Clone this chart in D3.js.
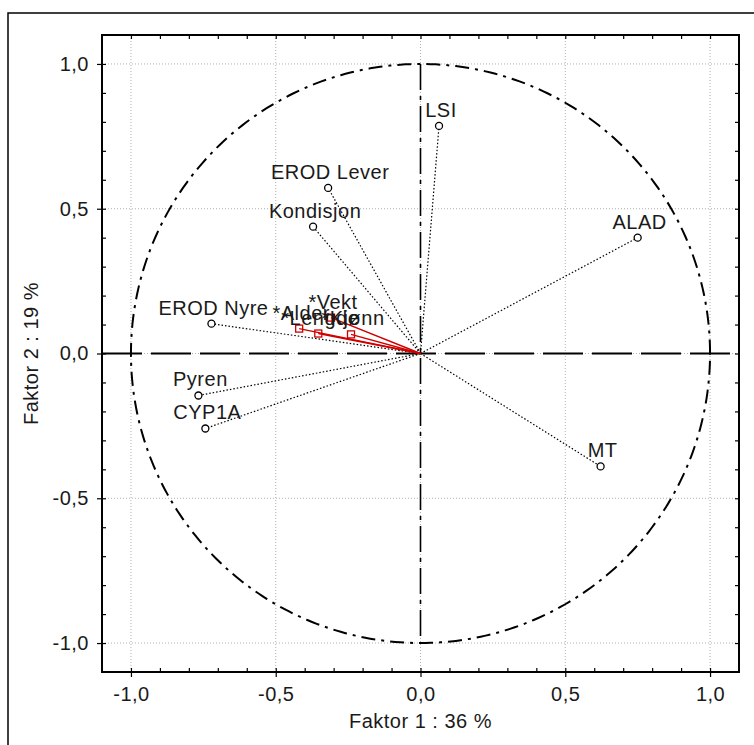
<!DOCTYPE html>
<html>
<head>
<meta charset="utf-8">
<script src="https://cdn.jsdelivr.net/npm/d3@7"></script>
<style>
  body { margin: 0; background: #fff; }
  text { font-family: "Liberation Sans", Arial, sans-serif; fill: #1a1a1a; }
</style>
</head>
<body>
<svg width="754" height="745"></svg>
<script>
// active variables (circles)
const varNames = ["LSI", "EROD Lever", "Kondisjon", "ALAD", "EROD Nyre", "Pyren", "CYP1A", "MT"];
const factor1 = [0.064, -0.319, -0.371, 0.75, -0.722, -0.767, -0.743, 0.622];
const factor2 = [0.786, 0.572, 0.438, 0.40, 0.103, -0.145, -0.259, -0.39];

// supplementary variables (red squares)
const suppNames = ["*Vekt", "*Alder", "*Lengde", "*Kjønn"];
const suppF1 = [-0.309, -0.419, -0.353, -0.24];
const suppF2 = [0.124, 0.086, 0.069, 0.066];

const majorTicks = [-1, -0.5, 0, 0.5, 1];
const minorTicks = d3.range(-10, 11).map(i => i / 10);
const xTitle = "Faktor 1 : 36 %", yTitle = "Faktor 2 : 19 %";

const svg = d3.select("svg"),
  plotLeft = 102, plotTop = 35, size = 637;

const x = d3.scaleLinear().domain([-1.1, 1.1]).range([plotLeft, plotLeft + size]);
const y = d3.scaleLinear().domain([-1.1, 1.1]).range([plotTop + size, plotTop]);
const fmt = d => d.toFixed(1).replace(".", ",");

// outer border, cut by the window on right and bottom
svg.append("rect")
  .attr("x", 8).attr("y", 13).attr("width", 800).attr("height", 800)
  .attr("fill", "none").attr("stroke", "#000").attr("stroke-width", 1.5);

// grid
const grid = svg.append("g").attr("stroke", "#b0b0b0").attr("stroke-dasharray", "1,2");
grid.selectAll(".gx").data(majorTicks).enter().append("line")
  .attr("x1", d => x(d)).attr("x2", d => x(d)).attr("y1", plotTop).attr("y2", plotTop + size);
grid.selectAll(".gy").data(majorTicks).enter().append("line")
  .attr("y1", d => y(d)).attr("y2", d => y(d)).attr("x1", plotLeft).attr("x2", plotLeft + size);

// axes: major outward ticks with labels, minor inward ticks on all four sides
function styleAxis(g) {
  g.select(".domain").remove();
  g.selectAll("line").attr("stroke", "#000").attr("stroke-width", 1.2);
  g.selectAll("text").attr("font-size", 20).attr("letter-spacing", "0.5px")
    .attr("font-family", "Liberation Sans, Arial, sans-serif").attr("fill", "#1a1a1a");
}
svg.append("g").attr("transform", `translate(0,${plotTop + size})`)
  .call(d3.axisBottom(x).tickValues(majorTicks).tickFormat(fmt).tickSize(5).tickPadding(10))
  .call(styleAxis);
svg.append("g").attr("transform", `translate(${plotLeft},0)`)
  .call(d3.axisLeft(y).tickValues(majorTicks).tickFormat(fmt).tickSize(5).tickPadding(8))
  .call(styleAxis);
svg.append("g").attr("transform", `translate(0,${plotTop + size})`)
  .call(d3.axisBottom(x).tickValues(minorTicks).tickFormat("").tickSize(-4)).call(styleAxis);
svg.append("g").attr("transform", `translate(0,${plotTop})`)
  .call(d3.axisTop(x).tickValues(minorTicks).tickFormat("").tickSize(-4)).call(styleAxis);
svg.append("g").attr("transform", `translate(${plotLeft},0)`)
  .call(d3.axisLeft(y).tickValues(minorTicks).tickFormat("").tickSize(-4)).call(styleAxis);
svg.append("g").attr("transform", `translate(${plotLeft + size},0)`)
  .call(d3.axisRight(y).tickValues(minorTicks).tickFormat("").tickSize(-4)).call(styleAxis);

// frame
svg.append("rect")
  .attr("x", plotLeft).attr("y", plotTop).attr("width", size).attr("height", size)
  .attr("fill", "none").attr("stroke", "#000").attr("stroke-width", 2);

// zero lines
svg.append("line")
  .attr("x1", x(-1.1)).attr("x2", x(1.1)).attr("y1", y(0)).attr("y2", y(0))
  .attr("stroke", "#000").attr("stroke-width", 2).attr("stroke-dasharray", "40,9");
svg.append("line")
  .attr("x1", x(0)).attr("x2", x(0)).attr("y1", y(1)).attr("y2", y(-1))
  .attr("stroke", "#000").attr("stroke-width", 1.6).attr("stroke-dasharray", "26,6,4,6");

// unit circle
const circleLine = d3.line().x(d => x(Math.cos(d))).y(d => y(Math.sin(d)));
svg.append("path")
  .attr("d", circleLine(d3.range(0, 2 * Math.PI + 0.01, Math.PI / 180)))
  .attr("fill", "none").attr("stroke", "#000").attr("stroke-width", 2)
  .attr("stroke-dasharray", "14,6,3,6");

// vectors
const idx = d3.range(varNames.length), sIdx = d3.range(suppNames.length);
svg.append("g").selectAll("line").data(idx).enter().append("line")
  .attr("x1", x(0)).attr("y1", y(0))
  .attr("x2", i => x(factor1[i])).attr("y2", i => y(factor2[i]))
  .attr("stroke", "#000").attr("stroke-width", 1.2).attr("stroke-dasharray", "1.5,2");
svg.append("g").selectAll("line").data(sIdx).enter().append("line")
  .attr("x1", x(0)).attr("y1", y(0))
  .attr("x2", i => x(suppF1[i])).attr("y2", i => y(suppF2[i]))
  .attr("stroke", "#d00000").attr("stroke-width", 1.4);

// markers
svg.append("g").selectAll("circle").data(idx).enter().append("circle")
  .attr("cx", i => x(factor1[i])).attr("cy", i => y(factor2[i])).attr("r", 3.5)
  .attr("fill", "#fff").attr("stroke", "#000").attr("stroke-width", 1.3);
svg.append("g").selectAll("rect").data(sIdx).enter().append("rect")
  .attr("x", i => x(suppF1[i]) - 3.5).attr("y", i => y(suppF2[i]) - 3.5)
  .attr("width", 7).attr("height", 7)
  .attr("fill", "none").attr("stroke", "#d00000").attr("stroke-width", 1.3);

// labels
function addLabels(names, f1, f2) {
  svg.append("g").selectAll("text").data(names).enter().append("text")
    .attr("x", (d, i) => x(f1[i]) + 2).attr("y", (d, i) => y(f2[i]) - 9)
    .attr("text-anchor", "middle").attr("font-size", 20).attr("letter-spacing", "0.5px")
    .text(d => d);
}
addLabels(varNames, factor1, factor2);
addLabels(suppNames, suppF1, suppF2);

// axis titles
svg.append("text")
  .attr("x", x(0)).attr("y", 728).attr("text-anchor", "middle")
  .attr("font-size", 20).attr("letter-spacing", "0.5px").text(xTitle);
svg.append("text")
  .attr("transform", `translate(38,${y(0)}) rotate(-90)`).attr("text-anchor", "middle")
  .attr("font-size", 20).attr("letter-spacing", "0.5px").text(yTitle);
</script>
</body>
</html>
